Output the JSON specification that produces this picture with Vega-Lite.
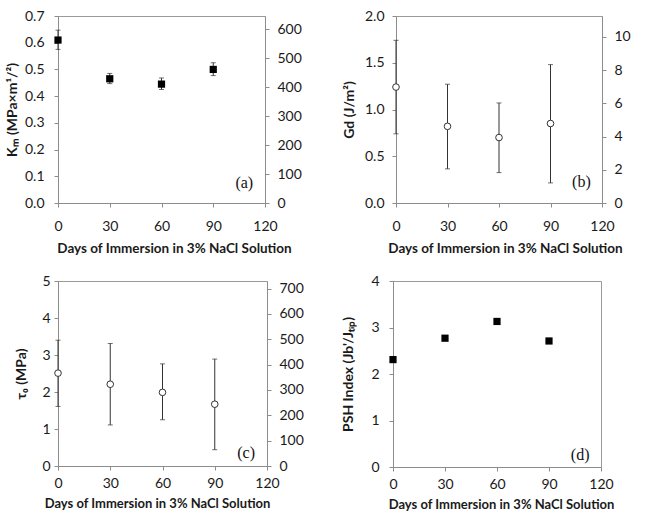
{
  "$schema": "https://vega.github.io/schema/vega-lite/v6.json",
  "padding": {"left": 4, "top": 8, "right": 0, "bottom": 0},
  "background": "white",
  "config": {
    "font": "Lato",
    "view": {"stroke": "#9a9a9a", "strokeWidth": 1},
    "axis": {
      "grid": false, "domainColor": "#8c8c8c", "tickColor": "#8c8c8c", "tickSize": 4,
      "labelFont": "Lato", "labelFontSize": 14, "labelColor": "#1a1a1a", "labelFlush": false, "labelOverlap": false, "labelSeparation": 0,
      "titleFont": "Lato", "titleFontSize": 14, "titleFontWeight": "bold", "titleColor": "#1a1a1a"
    },
    "rule": {"color": "#333333", "strokeWidth": 1},
    "tick": {"color": "#333333", "thickness": 1, "size": 5, "orient": "horizontal"}
  },
  "datasets": {
    "a": [
      {"day": 0, "v": 0.61, "lo": 0.575, "hi": 0.647},
      {"day": 30, "v": 0.465, "lo": 0.447, "hi": 0.485},
      {"day": 60, "v": 0.445, "lo": 0.425, "hi": 0.468},
      {"day": 90, "v": 0.5, "lo": 0.477, "hi": 0.525}
    ],
    "b": [
      {"day": 0, "v": 1.24, "lo": 0.74, "hi": 1.74},
      {"day": 30, "v": 0.82, "lo": 0.365, "hi": 1.27},
      {"day": 60, "v": 0.7, "lo": 0.325, "hi": 1.07},
      {"day": 90, "v": 0.85, "lo": 0.215, "hi": 1.48}
    ],
    "c": [
      {"day": 0, "v": 2.51, "lo": 1.61, "hi": 3.4},
      {"day": 30, "v": 2.21, "lo": 1.11, "hi": 3.31},
      {"day": 60, "v": 1.99, "lo": 1.25, "hi": 2.76},
      {"day": 90, "v": 1.67, "lo": 0.44, "hi": 2.89}
    ],
    "d": [
      {"day": 0, "v": 2.31},
      {"day": 30, "v": 2.77},
      {"day": 60, "v": 3.13},
      {"day": 90, "v": 2.71}
    ],
    "lab": [
      {"panel": "a", "text": "(a)"},
      {"panel": "b", "text": "(b)"},
      {"panel": "c", "text": "(c)"},
      {"panel": "d", "text": "(d)"}
    ]
  },
  "columns": 2,
  "align": {"row": "each", "column": "none"},
  "spacing": {"row": 18, "column": 37},
  "concat": [
    {
      "width": 207, "height": 187,
      "layer": [
        {
          "layer": [
            {
              "data": {"name": "a"},
              "mark": "rule",
              "encoding": {
                "x": {"field": "day", "type": "quantitative", "scale": {"domain": [0, 120]}, "axis": {"values": [0, 30, 60, 90, 120], "labelPadding": 12, "titlePadding": 8, "titleFontSize": 13.5, "titleX": 116}, "title": "Days of Immersion in 3% NaCl Solution"},
                "y": {"field": "lo", "type": "quantitative", "scale": {"domain": [0, 0.7]}, "axis": {"values": [0, 0.1, 0.2, 0.3, 0.4, 0.5, 0.6, 0.7], "format": ".1f", "labelPadding": 10, "titlePadding": 5, "labelOverlap": false}, "title": "Kₘ (MPa×m¹/²)"},
                "y2": {"field": "hi"}
              }
            },
            {
              "data": {"name": "a"},
              "mark": "tick",
              "encoding": {
                "x": {"field": "day", "type": "quantitative", "axis": {"values": [0, 30, 60, 90, 120], "labelPadding": 12, "titlePadding": 8, "titleFontSize": 13.5, "titleX": 116}, "title": "Days of Immersion in 3% NaCl Solution"},
                "y": {"field": "lo", "type": "quantitative", "axis": {"values": [0, 0.1, 0.2, 0.3, 0.4, 0.5, 0.6, 0.7], "format": ".1f", "labelPadding": 10, "titlePadding": 5, "labelOverlap": false}, "title": "Kₘ (MPa×m¹/²)"}
              }
            },
            {
              "data": {"name": "a"},
              "mark": "tick",
              "encoding": {
                "x": {"field": "day", "type": "quantitative", "axis": {"values": [0, 30, 60, 90, 120], "labelPadding": 12, "titlePadding": 8, "titleFontSize": 13.5, "titleX": 116}, "title": "Days of Immersion in 3% NaCl Solution"},
                "y": {"field": "hi", "type": "quantitative", "axis": {"values": [0, 0.1, 0.2, 0.3, 0.4, 0.5, 0.6, 0.7], "format": ".1f", "labelPadding": 10, "titlePadding": 5, "labelOverlap": false}, "title": "Kₘ (MPa×m¹/²)"}
              }
            },
            {
              "data": {"name": "a"},
              "mark": {"type": "point", "shape": "square", "filled": true, "color": "#000000", "size": 52, "opacity": 1},
              "encoding": {
                "x": {"field": "day", "type": "quantitative", "axis": {"values": [0, 30, 60, 90, 120], "labelPadding": 12, "titlePadding": 8, "titleFontSize": 13.5, "titleX": 116}, "title": "Days of Immersion in 3% NaCl Solution"},
                "y": {"field": "v", "type": "quantitative", "axis": {"values": [0, 0.1, 0.2, 0.3, 0.4, 0.5, 0.6, 0.7], "format": ".1f", "labelPadding": 10, "titlePadding": 5, "labelOverlap": false}, "title": "Kₘ (MPa×m¹/²)"}
              }
            },
            {
              "data": {"name": "lab"},
              "transform": [{"filter": "datum.panel === 'a'"}],
              "mark": {"type": "text", "font": "Liberation Serif", "fontSize": 16, "color": "#111111"},
              "encoding": {
                "x": {"datum": 108, "axis": {"values": [0, 30, 60, 90, 120], "labelPadding": 12, "titlePadding": 8, "titleFontSize": 13.5, "titleX": 116}, "title": "Days of Immersion in 3% NaCl Solution"},
                "y": {"datum": 0.073, "axis": {"values": [0, 0.1, 0.2, 0.3, 0.4, 0.5, 0.6, 0.7], "format": ".1f", "labelPadding": 10, "titlePadding": 5, "labelOverlap": false}, "title": "Kₘ (MPa×m¹/²)"},
                "text": {"field": "text"}
              }
            }
          ]
        },
        {
          "data": {"values": [{}]},
          "mark": {"type": "point", "opacity": 0},
          "encoding": {
            "x": {"datum": 0, "axis": {"values": [0, 30, 60, 90, 120], "labelPadding": 12, "titlePadding": 8, "titleFontSize": 13.5, "titleX": 116}, "title": "Days of Immersion in 3% NaCl Solution"},
            "y": {"datum": 0, "type": "quantitative", "scale": {"domain": [0, 646]}, "axis": {"orient": "right", "values": [0, 100, 200, 300, 400, 500, 600], "labelPadding": 8, "titlePadding": 8}, "title": "Kₘ (psi × inch¹/²)"}
          }
        }
      ],
      "resolve": {"scale": {"y": "independent"}}
    },
    {
      "width": 206, "height": 187,
      "layer": [
        {
          "layer": [
            {
              "data": {"name": "b"},
              "mark": "rule",
              "encoding": {
                "x": {"field": "day", "type": "quantitative", "scale": {"domain": [0, 120]}, "axis": {"values": [0, 30, 60, 90, 120], "labelPadding": 12, "titlePadding": 8, "titleFontSize": 13.5, "titleX": 109}, "title": "Days of Immersion in 3% NaCl Solution"},
                "y": {"field": "lo", "type": "quantitative", "scale": {"domain": [0, 2]}, "axis": {"values": [0, 0.5, 1, 1.5, 2], "format": ".1f", "labelPadding": 8, "titlePadding": 8}, "title": "Gd (J/m²)"},
                "y2": {"field": "hi"}
              }
            },
            {
              "data": {"name": "b"},
              "mark": "tick",
              "encoding": {
                "x": {"field": "day", "type": "quantitative", "axis": {"values": [0, 30, 60, 90, 120], "labelPadding": 12, "titlePadding": 8, "titleFontSize": 13.5, "titleX": 109}, "title": "Days of Immersion in 3% NaCl Solution"},
                "y": {"field": "lo", "type": "quantitative", "axis": {"values": [0, 0.5, 1, 1.5, 2], "format": ".1f", "labelPadding": 8, "titlePadding": 8}, "title": "Gd (J/m²)"}
              }
            },
            {
              "data": {"name": "b"},
              "mark": "tick",
              "encoding": {
                "x": {"field": "day", "type": "quantitative", "axis": {"values": [0, 30, 60, 90, 120], "labelPadding": 12, "titlePadding": 8, "titleFontSize": 13.5, "titleX": 109}, "title": "Days of Immersion in 3% NaCl Solution"},
                "y": {"field": "hi", "type": "quantitative", "axis": {"values": [0, 0.5, 1, 1.5, 2], "format": ".1f", "labelPadding": 8, "titlePadding": 8}, "title": "Gd (J/m²)"}
              }
            },
            {
              "data": {"name": "b"},
              "mark": {"type": "point", "shape": "circle", "filled": true, "fill": "white", "stroke": "#333333", "strokeWidth": 1, "size": 44, "opacity": 1},
              "encoding": {
                "x": {"field": "day", "type": "quantitative", "axis": {"values": [0, 30, 60, 90, 120], "labelPadding": 12, "titlePadding": 8, "titleFontSize": 13.5, "titleX": 109}, "title": "Days of Immersion in 3% NaCl Solution"},
                "y": {"field": "v", "type": "quantitative", "axis": {"values": [0, 0.5, 1, 1.5, 2], "format": ".1f", "labelPadding": 8, "titlePadding": 8}, "title": "Gd (J/m²)"}
              }
            },
            {
              "data": {"name": "lab"},
              "transform": [{"filter": "datum.panel === 'b'"}],
              "mark": {"type": "text", "font": "Liberation Serif", "fontSize": 16, "color": "#111111"},
              "encoding": {
                "x": {"datum": 108, "axis": {"values": [0, 30, 60, 90, 120], "labelPadding": 12, "titlePadding": 8, "titleFontSize": 13.5, "titleX": 109}, "title": "Days of Immersion in 3% NaCl Solution"},
                "y": {"datum": 0.22, "axis": {"values": [0, 0.5, 1, 1.5, 2], "format": ".1f", "labelPadding": 8, "titlePadding": 8}, "title": "Gd (J/m²)"},
                "text": {"field": "text"}
              }
            }
          ]
        },
        {
          "data": {"values": [{}]},
          "mark": {"type": "point", "opacity": 0},
          "encoding": {
            "x": {"datum": 0, "axis": {"values": [0, 30, 60, 90, 120], "labelPadding": 12, "titlePadding": 8, "titleFontSize": 13.5, "titleX": 109}, "title": "Days of Immersion in 3% NaCl Solution"},
            "y": {"datum": 0, "type": "quantitative", "scale": {"domain": [0, 11.26]}, "axis": {"orient": "right", "values": [0, 2, 4, 6, 8, 10], "labelPadding": 8, "titlePadding": 8}, "title": "Gd (×10⁻³ lb/inch)"}
          }
        }
      ],
      "resolve": {"scale": {"y": "independent"}}
    },
    {
      "width": 209, "height": 185,
      "layer": [
        {
          "layer": [
            {
              "data": {"name": "c"},
              "mark": "rule",
              "encoding": {
                "x": {"field": "day", "type": "quantitative", "scale": {"domain": [0, 120]}, "axis": {"values": [0, 30, 60, 90, 120], "labelPadding": 6, "titlePadding": 7, "titleFontSize": 13, "titleX": 99}, "title": "Days of Immersion in 3% NaCl Solution"},
                "y": {"field": "lo", "type": "quantitative", "scale": {"domain": [0, 5]}, "axis": {"values": [0, 1, 2, 3, 4, 5], "labelPadding": 4, "titlePadding": 13, "labelOverlap": false}, "title": "τ₀ (MPa)"},
                "y2": {"field": "hi"}
              }
            },
            {
              "data": {"name": "c"},
              "mark": "tick",
              "encoding": {
                "x": {"field": "day", "type": "quantitative", "axis": {"values": [0, 30, 60, 90, 120], "labelPadding": 6, "titlePadding": 7, "titleFontSize": 13, "titleX": 99}, "title": "Days of Immersion in 3% NaCl Solution"},
                "y": {"field": "lo", "type": "quantitative", "axis": {"values": [0, 1, 2, 3, 4, 5], "labelPadding": 4, "titlePadding": 13, "labelOverlap": false}, "title": "τ₀ (MPa)"}
              }
            },
            {
              "data": {"name": "c"},
              "mark": "tick",
              "encoding": {
                "x": {"field": "day", "type": "quantitative", "axis": {"values": [0, 30, 60, 90, 120], "labelPadding": 6, "titlePadding": 7, "titleFontSize": 13, "titleX": 99}, "title": "Days of Immersion in 3% NaCl Solution"},
                "y": {"field": "hi", "type": "quantitative", "axis": {"values": [0, 1, 2, 3, 4, 5], "labelPadding": 4, "titlePadding": 13, "labelOverlap": false}, "title": "τ₀ (MPa)"}
              }
            },
            {
              "data": {"name": "c"},
              "mark": {"type": "point", "shape": "circle", "filled": true, "fill": "white", "stroke": "#333333", "strokeWidth": 1, "size": 44, "opacity": 1},
              "encoding": {
                "x": {"field": "day", "type": "quantitative", "axis": {"values": [0, 30, 60, 90, 120], "labelPadding": 6, "titlePadding": 7, "titleFontSize": 13, "titleX": 99}, "title": "Days of Immersion in 3% NaCl Solution"},
                "y": {"field": "v", "type": "quantitative", "axis": {"values": [0, 1, 2, 3, 4, 5], "labelPadding": 4, "titlePadding": 13, "labelOverlap": false}, "title": "τ₀ (MPa)"}
              }
            },
            {
              "data": {"name": "lab"},
              "transform": [{"filter": "datum.panel === 'c'"}],
              "mark": {"type": "text", "font": "Liberation Serif", "fontSize": 16, "color": "#111111"},
              "encoding": {
                "x": {"datum": 108, "axis": {"values": [0, 30, 60, 90, 120], "labelPadding": 6, "titlePadding": 7, "titleFontSize": 13, "titleX": 99}, "title": "Days of Immersion in 3% NaCl Solution"},
                "y": {"datum": 0.35, "axis": {"values": [0, 1, 2, 3, 4, 5], "labelPadding": 4, "titlePadding": 13, "labelOverlap": false}, "title": "τ₀ (MPa)"},
                "text": {"field": "text"}
              }
            }
          ]
        },
        {
          "data": {"values": [{}]},
          "mark": {"type": "point", "opacity": 0},
          "encoding": {
            "x": {"datum": 0, "axis": {"values": [0, 30, 60, 90, 120], "labelPadding": 6, "titlePadding": 7, "titleFontSize": 13, "titleX": 99}, "title": "Days of Immersion in 3% NaCl Solution"},
            "y": {"datum": 0, "type": "quantitative", "scale": {"domain": [0, 730]}, "axis": {"orient": "right", "values": [0, 100, 200, 300, 400, 500, 600, 700], "labelPadding": 8, "titlePadding": 14}, "title": "τ₀ (psi)"}
          }
        }
      ],
      "resolve": {"scale": {"y": "independent"}}
    },
    {
      "width": 208, "height": 186,
      "layer": [
        {
          "data": {"name": "d"},
          "mark": {"type": "point", "shape": "square", "filled": true, "color": "#000000", "size": 52, "opacity": 1},
          "encoding": {
            "x": {"field": "day", "type": "quantitative", "scale": {"domain": [0, 120]}, "axis": {"values": [0, 30, 60, 90, 120], "labelPadding": 6, "titlePadding": 7, "titleFontSize": 13, "titleX": 108}, "title": "Days of Immersion in 3% NaCl Solution"},
            "y": {"field": "v", "type": "quantitative", "scale": {"domain": [0, 4]}, "axis": {"values": [0, 1, 2, 3, 4], "labelPadding": 10, "titlePadding": 15}, "title": "PSH Index (Jb'/Jₜᵢₚ)"}
          }
        },
        {
          "data": {"name": "lab"},
          "transform": [{"filter": "datum.panel === 'd'"}],
          "mark": {"type": "text", "font": "Liberation Serif", "fontSize": 16, "color": "#111111"},
          "encoding": {
            "x": {"datum": 108, "axis": {"values": [0, 30, 60, 90, 120], "labelPadding": 6, "titlePadding": 7, "titleFontSize": 13, "titleX": 108}, "title": "Days of Immersion in 3% NaCl Solution"},
            "y": {"datum": 0.26, "axis": {"values": [0, 1, 2, 3, 4], "labelPadding": 10, "titlePadding": 15}, "title": "PSH Index (Jb'/Jₜᵢₚ)"},
            "text": {"field": "text"}
          }
        }
      ]
    }
  ]
}
